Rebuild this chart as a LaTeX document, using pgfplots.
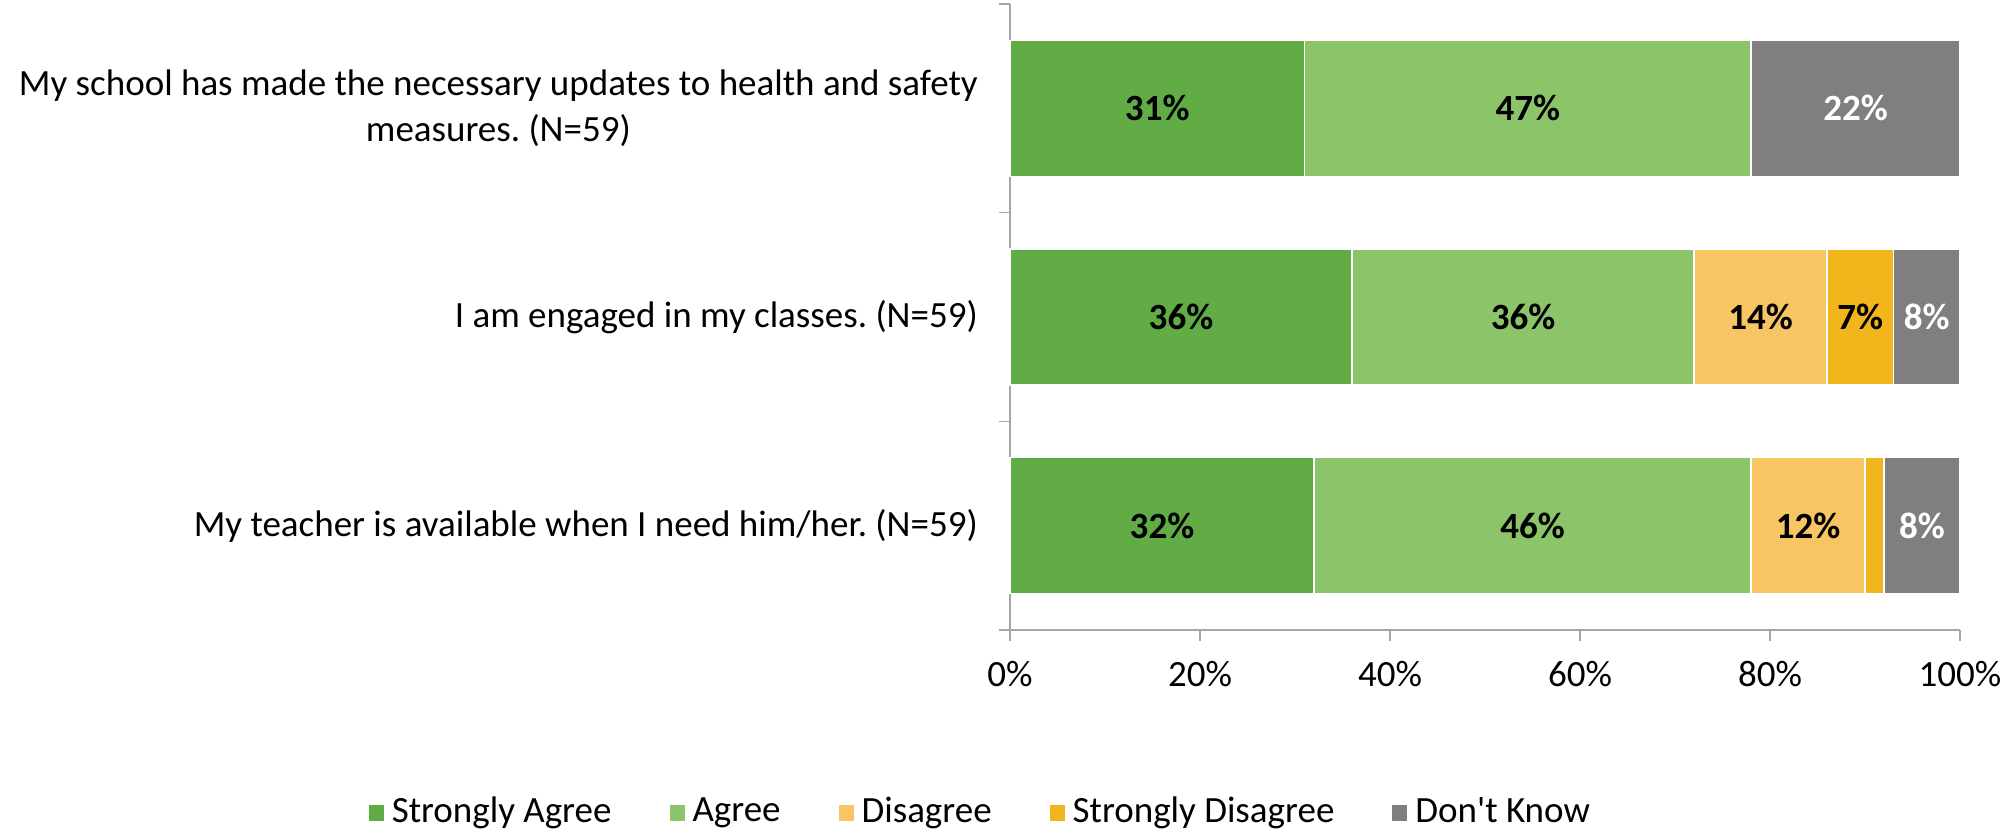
\documentclass[border=0pt]{standalone}
\usepackage{pgfplots}
\pgfplotsset{compat=1.18}
\usepackage{fontspec}
\setmainfont{Carlito}
\definecolor{sa}{HTML}{62AC46}
\definecolor{ag}{HTML}{8CC469}
\definecolor{di}{HTML}{F7C563}
\definecolor{sd}{HTML}{F2B51B}
\definecolor{dk}{HTML}{7F7F7F}
\definecolor{axisgray}{HTML}{A6A6A6}
\begin{document}
\frenchspacing
\fontsize{37}{46}\selectfont
\begin{tikzpicture}
\begin{axis}[
  xbar stacked,
  scale only axis, width=950pt, height=626pt,
  at={(0pt,0pt)}, anchor=south west,
  xmin=0, xmax=100, ymin=-0.5, ymax=2.5,
  bar width=136pt,
  axis x line*=bottom, axis y line*=left,
  axis line style={draw=axisgray, line width=1.5pt},
  tick align=outside,
  major tick length=11pt,
  xtick={0,20,40,60,80,100},
  xticklabel={\pgfmathprintnumber{\tick}\%},
  xtick style={draw=axisgray, line width=1.5pt},
  ytick={0,1,2},
  yticklabels={{My teacher is available when I need him/her. (N=59)},{I am engaged in my classes. (N=59)},{My school has made the necessary updates to health and safety\\measures. (N=59)}},
  ytick style={draw=none},
  extra y ticks={-0.5,0.5,1.5,2.5},
  extra y tick labels={},
  extra y tick style={ytick style={draw=axisgray, line width=1.5pt}},
  yticklabel style={align=center, inner sep=0pt, xshift=-21pt},
  xticklabel style={inner sep=0pt, yshift=-20pt},
  /pgf/number format/assume math mode=true,
  tick label style={font=\fontsize{37}{46}\selectfont\frenchspacing},
  point meta=explicit symbolic,
  nodes near coords,
  every node near coord/.append style={font=\fontsize{37}{46}\selectfont\bfseries, text=black},
  legend columns=5,
  legend style={at={(axis description cs:-0.028,-0.292)}, anchor=center, draw=none, fill=none,
    font=\fontsize{37}{46}\selectfont,
    /tikz/every even column/.append style={column sep=50pt},
    nodes={inner xsep=8pt}},
  legend image code/.code={\fill[#1, draw=none] (0pt,-8pt) rectangle (15pt,8pt);},
  clip=false,
]
\addplot[fill=sa, draw=white, line width=1.5pt] coordinates {(32,0) [32\%] (36,1) [36\%] (31,2) [31\%]};
\addplot[fill=ag, draw=white, line width=1.5pt] coordinates {(46,0) [46\%] (36,1) [36\%] (47,2) [47\%]};
\addplot[fill=di, draw=white, line width=1.5pt] coordinates {(12,0) [12\%] (14,1) [14\%] (0,2) []};
\addplot[fill=sd, draw=white, line width=1.5pt] coordinates {(2,0) [] (7,1) [7\%] (0,2) []};
\addplot[fill=dk, draw=white, line width=1.5pt, every node near coord/.append style={text=white}] coordinates {(8,0) [8\%] (7,1) [8\%] (22,2) [22\%]};
\legend{Strongly Agree, Agree, Disagree, Strongly Disagree, Don\textquotesingle t Know}
\end{axis}
\path[use as bounding box] (-1010pt,-206pt) rectangle (992pt,630pt);
\end{tikzpicture}
\end{document}
